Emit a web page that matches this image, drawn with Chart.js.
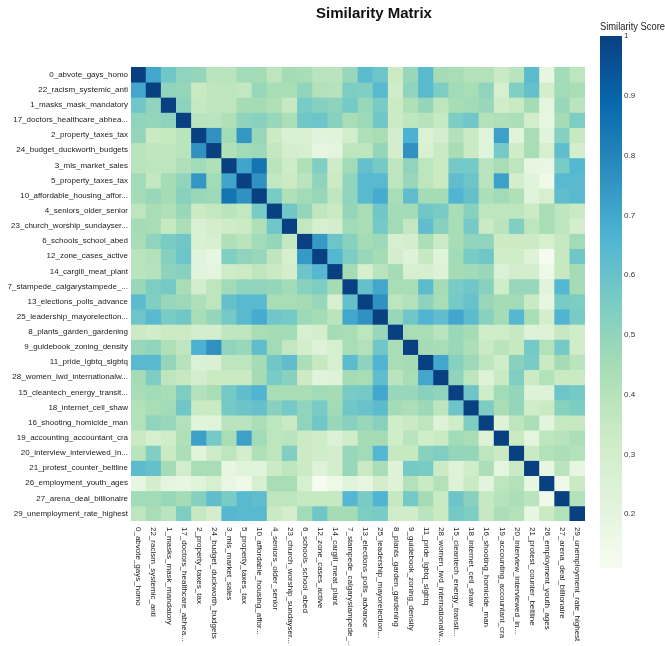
<!DOCTYPE html>
<html>
<head>
<meta charset="utf-8">
<script src="https://cdn.jsdelivr.net/npm/chart.js@4.4.0/dist/chart.umd.min.js"></script>
<style>
  body { margin: 0; background: #fff; }
  #wrap { position: relative; width: 665px; height: 646px; overflow: hidden; }
  #matrix { position: absolute; left: 0; top: 0; }
  #scale { position: absolute; left: 590px; top: 0; }
</style>
</head>
<body>
<div id="wrap">
  <canvas id="matrix" width="665" height="646"></canvas>
  <canvas id="scale" width="75" height="646"></canvas>
</div>
<script>
// topic labels, same order on both axes
const topics = [
  '0_abvote_gays_homo', '22_racism_systemic_anti', '1_masks_mask_mandatory',
  '17_doctors_healthcare_abhea...', '2_property_taxes_tax', '24_budget_duckworth_budgets',
  '3_mls_market_sales', '5_property_taxes_tax', '10_affordable_housing_affor...',
  '4_seniors_older_senior', '23_church_worship_sundayser...', '6_schools_school_abed',
  '12_zone_cases_active', '14_cargill_meat_plant', '7_stampede_calgarystampede_...',
  '13_elections_polls_advance', '25_leadership_mayorelection...', '8_plants_garden_gardening',
  '9_guidebook_zoning_density', '11_pride_lgbtq_slgbtq', '28_women_iwd_internationalw...',
  '15_cleantech_energy_transit...', '18_internet_cell_shaw', '16_shooting_homicide_man',
  '19_accounting_accountant_cra', '20_interview_interviewed_in...', '21_protest_counter_beltline',
  '26_employment_youth_ages', '27_arena_deal_billionaire', '29_unemployment_rate_highest'
];

// similarity above the diagonal: row r holds columns r+1 .. 29
const upperRows = [
  [.70,.58,.50,.49,.39,.39,.46,.45,.38,.45,.44,.39,.39,.48,.63,.59,.33,.48,.64,.45,.44,.41,.41,.34,.39,.63,.19,.46,.38],
  [.50,.49,.34,.37,.38,.36,.48,.44,.44,.50,.41,.40,.55,.54,.64,.31,.50,.64,.55,.46,.44,.50,.28,.54,.61,.29,.46,.44],
  [.51,.35,.37,.38,.45,.45,.42,.35,.56,.53,.51,.57,.48,.56,.33,.42,.49,.38,.44,.46,.48,.31,.34,.45,.20,.48,.39],
  [.39,.39,.42,.50,.52,.48,.43,.58,.59,.52,.44,.47,.58,.33,.37,.40,.35,.55,.58,.41,.42,.43,.30,.19,.45,.55],
  [.76,.46,.75,.48,.33,.26,.26,.22,.22,.30,.42,.44,.29,.67,.25,.29,.41,.34,.22,.72,.22,.44,.22,.53,.35],
  [.42,.46,.47,.36,.29,.27,.19,.20,.38,.38,.49,.29,.76,.26,.34,.44,.34,.22,.57,.32,.44,.28,.62,.29],
  [.71,.85,.39,.32,.42,.54,.32,.46,.61,.57,.37,.50,.38,.34,.57,.57,.39,.44,.38,.19,.18,.56,.65],
  [.76,.36,.33,.39,.50,.33,.50,.64,.64,.38,.48,.38,.34,.62,.59,.39,.72,.29,.22,.15,.64,.64],
  [.56,.42,.46,.48,.37,.50,.64,.69,.44,.62,.45,.45,.66,.61,.43,.46,.42,.22,.28,.62,.64],
  [.58,.49,.37,.34,.49,.44,.58,.45,.46,.58,.56,.44,.52,.38,.38,.38,.33,.44,.38,.34],
  [.36,.28,.29,.46,.44,.57,.46,.36,.62,.52,.44,.57,.34,.39,.54,.38,.44,.38,.29],
  [.74,.59,.52,.45,.47,.28,.29,.43,.33,.44,.50,.50,.33,.33,.33,.28,.35,.46],
  [.65,.55,.48,.45,.29,.23,.35,.22,.46,.56,.58,.31,.31,.24,.12,.35,.58],
  [.45,.28,.39,.45,.28,.28,.24,.45,.46,.48,.25,.29,.29,.16,.35,.45],
  [.61,.70,.44,.44,.63,.45,.56,.58,.52,.31,.48,.48,.22,.65,.45],
  [.76,.38,.41,.51,.44,.57,.60,.48,.45,.46,.34,.19,.56,.55],
  [.48,.58,.66,.62,.70,.63,.52,.45,.65,.44,.29,.66,.56],
  [.44,.44,.39,.48,.45,.31,.31,.35,.24,.24,.35,.31],
  [.45,.44,.48,.43,.34,.39,.35,.57,.41,.57,.31],
  [.70,.52,.47,.38,.31,.52,.56,.34,.45,.39],
  [.50,.38,.24,.34,.54,.33,.41,.34,.34],
  [.59,.31,.46,.49,.24,.24,.59,.57],
  [.55,.44,.49,.31,.34,.52,.55],
  [.24,.38,.43,.21,.35,.35],
  [.34,.20,.38,.40,.43],
  [.34,.41,.43,.41],
  [.19,.39,.19],
  [.15,.34],
  [.41]
];

// colour bar range and ticks
const vMin = 0.11;
const vMax = 1;
const scaleTicks = [0.2, 0.3, 0.4, 0.5, 0.6, 0.7, 0.8, 0.9, 1];

// GnBu colour stops
const gnbu = ['#f7fcf0', '#e0f3db', '#ccebc5', '#a8ddb5', '#7bccc4', '#4eb3d3', '#2b8cbe', '#0868ac', '#084081'];

Chart.defaults.font.family = '"Liberation Sans", Arial, sans-serif';
Chart.defaults.color = '#222';

const n = topics.length;
// full symmetric matrix, 1 on the diagonal
const matrix = topics.map((_, r) => topics.map((_, c) => {
  if (r === c) return 1;
  return r < c ? upperRows[r][c - r - 1] : upperRows[c][r - c - 1];
}));

function hexRgb(h) {
  return [parseInt(h.slice(1, 3), 16), parseInt(h.slice(3, 5), 16), parseInt(h.slice(5, 7), 16)];
}

function colorFor(v) {
  let t = (v - vMin) / (vMax - vMin);
  t = Math.max(0, Math.min(1, t));
  const p = t * (gnbu.length - 1);
  const i = Math.min(gnbu.length - 2, Math.floor(p));
  const f = p - i;
  const a = hexRgb(gnbu[i]), b = hexRgb(gnbu[i + 1]);
  const c = a.map((x, k) => Math.round(x + (b[k] - x) * f));
  return 'rgb(' + c.join(',') + ')';
}

// x labels (rotated downwards) and the title
const matrixText = {
  id: 'matrixText',
  afterDraw(chart) {
    const ctx = chart.ctx;
    const x = chart.scales.x;
    ctx.save();
    ctx.fillStyle = '#222';
    ctx.font = '8px "Liberation Sans", Arial, sans-serif';
    ctx.textAlign = 'left';
    ctx.textBaseline = 'middle';
    topics.forEach((t, i) => {
      ctx.save();
      ctx.translate(x.getPixelForValue(i), chart.chartArea.bottom + 6);
      ctx.rotate(Math.PI / 2);
      ctx.fillText(t, 0, 0);
      ctx.restore();
    });
    ctx.font = 'bold 15px "Liberation Sans", Arial, sans-serif';
    ctx.textAlign = 'center';
    ctx.fillStyle = '#111';
    ctx.fillText('Similarity Matrix', 374, 14);
    ctx.restore();
  }
};

new Chart(document.getElementById('matrix'), {
  type: 'bar',
  data: {
    labels: topics,
    datasets: matrix.map((row, r) => ({
      data: row.map(() => [r, r + 1]),
      backgroundColor: row.map(colorFor),
      grouped: false,
      barPercentage: 1,
      categoryPercentage: 1,
      borderWidth: 0,
      inflateAmount: 0.4
    }))
  },
  options: {
    responsive: false,
    animation: false,
    layout: { padding: { top: 67, right: 80, left: 0, bottom: 0 } },
    plugins: {
      legend: { display: false },
      tooltip: { enabled: false },
      title: { display: false }
    },
    scales: {
      x: {
        grid: { display: false, drawTicks: false },
        border: { display: false },
        ticks: { display: false },
        afterFit: s => { s.height = 125; }
      },
      y: {
        type: 'linear',
        min: 0,
        max: n,
        reverse: true,
        grid: { display: false, drawTicks: false },
        border: { display: false },
        afterBuildTicks: s => { s.ticks = topics.map((_, i) => ({ value: i + 0.5 })); },
        ticks: {
          autoSkip: false,
          padding: 3,
          color: '#222',
          font: { size: 8 },
          callback: v => topics[Math.floor(v)]
        },
        afterFit: s => { s.width = 131; }
      }
    }
  },
  plugins: [matrixText]
});

// colour bar
new Chart(document.getElementById('scale'), {
  type: 'bar',
  data: {
    labels: [''],
    datasets: [{
      data: [[vMin, vMax]],
      backgroundColor: c => {
        const area = c.chart.chartArea;
        if (!area) return gnbu[4];
        const g = c.chart.ctx.createLinearGradient(0, area.bottom, 0, area.top);
        gnbu.forEach((col, i) => g.addColorStop(i / (gnbu.length - 1), col));
        return g;
      },
      barPercentage: 1,
      categoryPercentage: 1,
      borderWidth: 0
    }]
  },
  options: {
    responsive: false,
    animation: false,
    layout: { padding: { left: 10, right: 0, top: 0, bottom: 78 } },
    plugins: {
      legend: { display: false },
      tooltip: { enabled: false },
      title: {
        display: true,
        text: 'Similarity Score',
        align: 'start',
        color: '#222',
        font: { size: 10, weight: 'normal' },
        padding: { top: 21, bottom: 3 }
      }
    },
    scales: {
      x: { display: false },
      y: {
        position: 'right',
        min: vMin,
        max: vMax,
        grid: { display: false, drawTicks: false },
        border: { display: false },
        afterBuildTicks: s => { s.ticks = scaleTicks.map(v => ({ value: v })); },
        ticks: {
          padding: 2,
          color: '#333',
          font: { size: 8 },
          callback: v => (v === 1 ? '1' : v.toFixed(1))
        },
        afterFit: s => { s.width = 43; }
      }
    }
  }
});
</script>
</body>
</html>
